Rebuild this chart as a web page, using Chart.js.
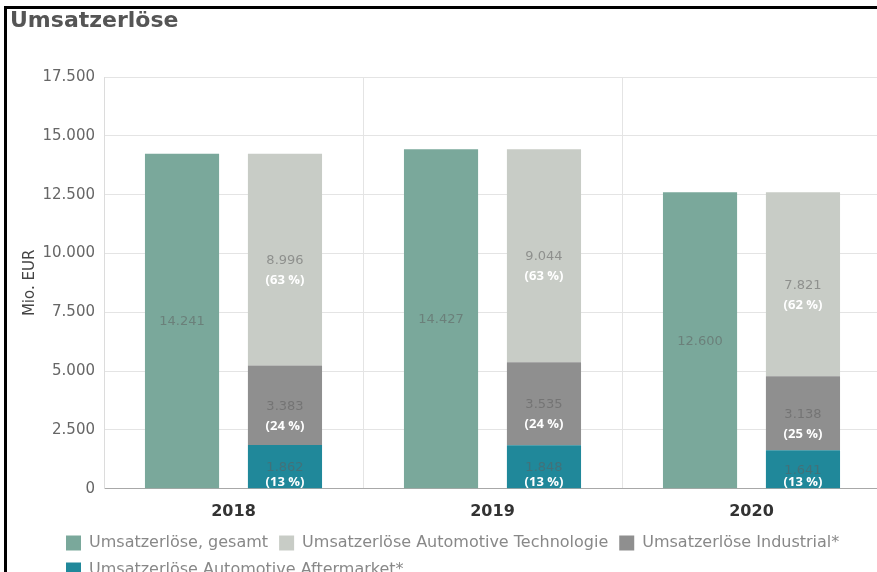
<!DOCTYPE html>
<html>
<head>
<meta charset="utf-8">
<script src="https://cdn.jsdelivr.net/npm/chart.js@4"></script>
<style>
    html, body { margin: 0; padding: 0; background: #fff; overflow: hidden; }
    #wrap { position: relative; width: 877px; height: 572px; overflow: hidden; }
    #frame { position: absolute; left: 4px; top: 6px; width: 880px; height: 580px;
             border-left: 3px solid #000; border-top: 3px solid #000; pointer-events: none; }
    canvas { position: absolute; left: 0; top: 0; }
</style>
</head>
<body>
<div id="wrap">
    <canvas id="barChart" width="884" height="598"></canvas>
    <div id="frame"></div>
</div>
<script>
// values in Mio. EUR
const years = ["2018", "2019", "2020"];
const totalRevenue = [14241, 14427, 12600];
const techRevenue = [8996, 9044, 7821];
const industrialRevenue = [3383, 3535, 3138];
const aftermarketRevenue = [1862, 1848, 1641];
// shares as printed in the chart
const techShare = [63, 63, 62];
const industrialShare = [24, 24, 25];
const aftermarketShare = [13, 13, 13];
const yTicks = [0, 2500, 5000, 7500, 10000, 12500, 15000, 17500];

function formatDe(n) {
    return String(n).replace(/\B(?=(\d{3})+(?!\d))/g, ".");
}

// draws the value and the share inside each bar segment
const barLabels = {
    id: "barLabels",
    afterDatasetsDraw(chart) {
        const ctx = chart.ctx;
        ctx.save();
        ctx.textAlign = "center";
        ctx.textBaseline = "middle";
        chart.data.datasets.forEach((ds, i) => {
            const meta = chart.getDatasetMeta(i);
            meta.data.forEach((bar, j) => {
                const mid = (bar.y + bar.base) / 2;
                ctx.font = "13px 'DejaVu Sans'";
                ctx.fillStyle = "rgba(95, 95, 95, 0.55)";
                ctx.fillText(formatDe(ds.data[j]), bar.x, mid + 1);
                if (ds.share) {
                    ctx.font = "bold 13px 'Open Sans'";
                    ctx.fillStyle = "#fff";
                    const y = Math.min(mid + 21, bar.base - 6);
                    ctx.fillText("(" + ds.share[j] + " %)", bar.x, y);
                }
            });
        });
        ctx.restore();
    }
};

// pulls the legend rows in from the left edge and a bit closer to the axis
const legendShift = {
    id: "legendShift",
    afterLayout(chart) {
        chart.legend.left += 45;
        chart.legend.top -= 10;
        chart.legend.bottom -= 10;
    }
};

const legendRank = [0, 3, 2, 1];

const ctx = document.getElementById("barChart").getContext("2d");
new Chart(ctx, {
    type: "bar",
    data: {
        labels: years,
        datasets: [
            { label: "Umsatzerlöse, gesamt", data: totalRevenue, stack: "gesamt",
              backgroundColor: "#7aa89b" },
            { label: "Umsatzerlöse Automotive Aftermarket*", data: aftermarketRevenue, stack: "teile",
              backgroundColor: "#20889a", share: aftermarketShare },
            { label: "Umsatzerlöse Industrial*", data: industrialRevenue, stack: "teile",
              backgroundColor: "#8f8f8f", share: industrialShare },
            { label: "Umsatzerlöse Automotive Technologie", data: techRevenue, stack: "teile",
              backgroundColor: "#c8ccc6", share: techShare }
        ]
    },
    options: {
        responsive: false,
        animation: false,
        layout: { padding: { left: 10, right: 3, top: 0, bottom: 0 } },
        datasets: { bar: { categoryPercentage: 0.795, barPercentage: 0.72 } },
        plugins: {
            title: {
                display: true,
                text: "Umsatzerlöse",
                align: "start",
                color: "#555",
                font: { family: "DejaVu Sans", size: 22, weight: "bold" },
                padding: { top: 8, bottom: 42.6 }
            },
            legend: {
                position: "bottom",
                align: "start",
                labels: {
                    boxWidth: 15,
                    boxHeight: 15,
                    padding: 11,
                    color: "#888",
                    font: { family: "DejaVu Sans", size: 16 },
                    sort: (a, b) => legendRank[a.datasetIndex] - legendRank[b.datasetIndex]
                }
            },
            tooltip: { enabled: false }
        },
        scales: {
            x: {
                stacked: true,
                grid: { color: "#e4e4e4", drawTicks: false, offset: true },
                border: { color: "#a8a8a8" },
                ticks: { color: "#333", padding: 13, font: { family: "DejaVu Sans", size: 16, weight: "bold" } }
            },
            y: {
                stacked: true,
                min: 0,
                max: 17500,
                afterFit(scale) { scale.width = 94; },
                afterBuildTicks(scale) { scale.ticks = yTicks.map(v => ({ value: v })); },
                grid: { color: "#e4e4e4", drawTicks: false },
                border: { color: "#dcdcdc" },
                title: {
                    display: true,
                    text: "Mio. EUR",
                    color: "#444",
                    font: { family: "DejaVu Sans", size: 15 },
                    padding: { top: 11, bottom: 0 }
                },
                ticks: {
                    color: "#666",
                    padding: 9,
                    font: { family: "DejaVu Sans", size: 15 },
                    callback: v => formatDe(v)
                }
            }
        }
    },
    plugins: [barLabels, legendShift]
});
</script>
</body>
</html>
